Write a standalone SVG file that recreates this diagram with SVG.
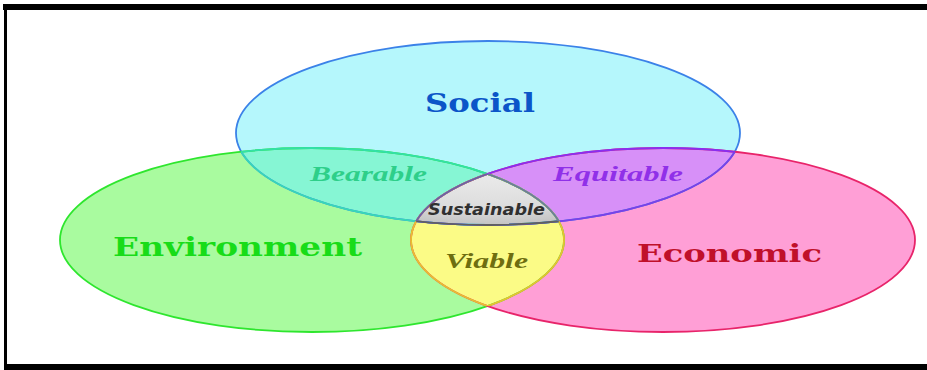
<svg xmlns="http://www.w3.org/2000/svg" width="927" height="370" viewBox="0 0 927 370">
<style>
.big{font-family:"DejaVu Serif","Liberation Serif",serif;font-weight:bold}
.it{font-family:"Liberation Serif","DejaVu Serif",serif;font-style:italic;font-weight:bold}
.sus{font-family:"DejaVu Sans","Liberation Sans",sans-serif;font-style:italic;font-weight:bold}
</style>
<defs>
<ellipse id="eS" cx="488" cy="133" rx="252" ry="92"/>
<ellipse id="eE" cx="312" cy="240" rx="252" ry="92"/>
<ellipse id="eC" cx="663" cy="240" rx="252" ry="92"/>
<clipPath id="cS"><use href="#eS"/></clipPath>
<clipPath id="cE"><use href="#eE"/></clipPath>
<clipPath id="cC"><use href="#eC"/></clipPath>
<radialGradient id="gSus" cx="50%" cy="55%" r="60%">
<stop offset="0" stop-color="#f8f8f8"/>
<stop offset="0.6" stop-color="#dcdcdc"/>
<stop offset="1" stop-color="#9a9a9a"/>
</radialGradient>
</defs>
<rect width="927" height="370" fill="#fff"/>
<g id="frame" fill="#000">
<rect x="3" y="4" width="924" height="6"/>
<rect x="4" y="4" width="3" height="366"/>
<rect x="4" y="364" width="923" height="6"/>
</g>
<g id="fills">
<use href="#eS" fill="#b5f7fc"/>
<use href="#eE" fill="#a9fb9f"/>
<use href="#eC" fill="#ff9fd6"/>
<g clip-path="url(#cS)"><use href="#eE" fill="#86f6d4"/><use href="#eC" fill="#d790f8"/></g>
<g clip-path="url(#cE)"><use href="#eC" fill="#fbfb86"/></g>
<g clip-path="url(#cE)"><g clip-path="url(#cC)"><use href="#eS" fill="url(#gSus)"/></g></g>
</g>
<g id="outlines" fill="none" stroke-width="1.8">
<use href="#eS" stroke="#3b82e8"/>
<use href="#eE" stroke="#2ee62e"/>
<use href="#eC" stroke="#e8246a"/>
<g clip-path="url(#cS)"><use href="#eE" stroke="#33e0a8"/><use href="#eC" stroke="#8a2ef0"/></g>
<g clip-path="url(#cE)"><use href="#eS" stroke="#38d8b8"/></g>
<g clip-path="url(#cC)"><use href="#eS" stroke="#7a40e8"/></g>
<g clip-path="url(#cE)"><use href="#eC" stroke="#e8c030"/></g>
<g clip-path="url(#cC)"><use href="#eE" stroke="#e8c030"/></g>
<g clip-path="url(#cE)"><g clip-path="url(#cC)"><use href="#eS" stroke="#606060"/></g></g>
<g clip-path="url(#cS)"><g clip-path="url(#cC)"><use href="#eE" stroke="#6a7aa0"/></g></g>
<g clip-path="url(#cS)"><g clip-path="url(#cE)"><use href="#eC" stroke="#6a60a8"/></g></g>
</g>
<g id="social"><text class="big" x="425" y="112" font-size="26" fill="#0b55c8" textLength="110" lengthAdjust="spacingAndGlyphs">Social</text></g>
<g id="environment"><text class="big" x="113" y="256" font-size="26" fill="#18dc18" textLength="249" lengthAdjust="spacingAndGlyphs">Environment</text></g>
<g id="economic"><text class="big" x="637" y="262" font-size="24" fill="#c0102a" textLength="185" lengthAdjust="spacingAndGlyphs">Economic</text></g>
<g id="bearable"><text class="it" x="310" y="181" font-size="20" fill="#2ecf8a" textLength="117" lengthAdjust="spacingAndGlyphs">Bearable</text></g>
<g id="equitable"><text class="it" x="553" y="181" font-size="20" fill="#9030e8" textLength="130" lengthAdjust="spacingAndGlyphs">Equitable</text></g>
<g id="sustainable"><text class="sus" x="428" y="215" font-size="15" fill="#303030" textLength="117" lengthAdjust="spacingAndGlyphs">Sustainable</text></g>
<g id="viable"><text class="it" x="445" y="268" font-size="21" fill="#6e6e10" textLength="83" lengthAdjust="spacingAndGlyphs">Viable</text></g>
</svg>
